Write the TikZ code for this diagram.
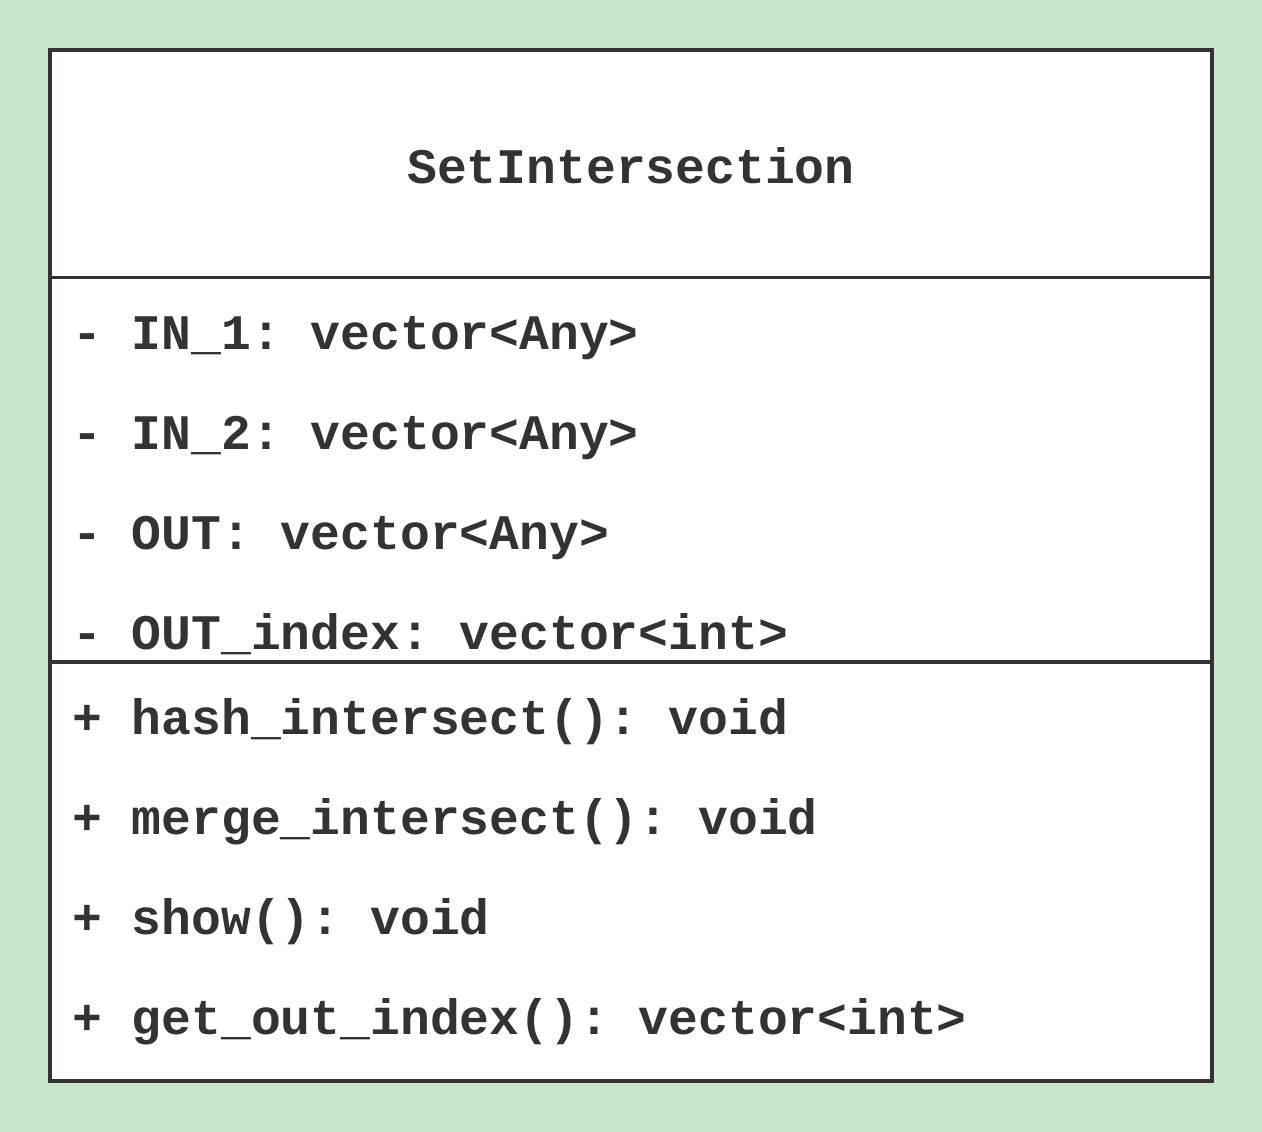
\documentclass[tikz,border=0pt]{standalone}
\usepackage{fontspec}
\setmonofont{Liberation Mono}
\definecolor{bgGreen}{HTML}{C8E6C9}
\definecolor{ink}{HTML}{333333}
\frenchspacing
\begin{document}
\begin{tikzpicture}[x=1pt,y=-1pt,
  member/.style={anchor=base west, inner sep=0pt, text=ink,
    font=\fontsize{49.7}{50}\selectfont\ttfamily\bfseries},
  title/.style={anchor=base, inner sep=0pt, text=ink,
    font=\fontsize{49.7}{50}\selectfont\ttfamily\bfseries},
  frame/.style={draw=ink, line width=4pt},
  divider/.style={draw=ink, line width=3.5pt}]
  % canvas
  \fill[bgGreen] (0,0) rectangle (1262,1132);
  \useasboundingbox (0,0) rectangle (1262,1132);
  % class box
  \filldraw[fill=white, frame] (50,50) rectangle (1211.5,1081);
  \coordinate (d1l) at (50,277.5);  \coordinate (d1r) at (1211.5,277.5);
  \coordinate (d2l) at (50,662);    \coordinate (d2r) at (1211.5,662);
  \draw[divider] (d1l) -- (d1r);
  \draw[divider] (d2l) -- (d2r);
  % class name
  \node[title] (name) at (631,183) {SetIntersection};
  % attributes
  \node[member] (a1) at (72,349) {- IN\_1: vector<Any>};
  \node[member] (a2) at (72,449) {- IN\_2: vector<Any>};
  \node[member] (a3) at (72,549) {- OUT: vector<Any>};
  \node[member] (a4) at (72,649) {- OUT\_index: vector<int>};
  % operations
  \node[member] (m1) at (72,734) {+ hash\_intersect(): void};
  \node[member] (m2) at (72,834) {+ merge\_intersect(): void};
  \node[member] (m3) at (72,934) {+ show(): void};
  \node[member] (m4) at (72,1034) {+ get\_out\_index(): vector<int>};
\end{tikzpicture}
\end{document}
